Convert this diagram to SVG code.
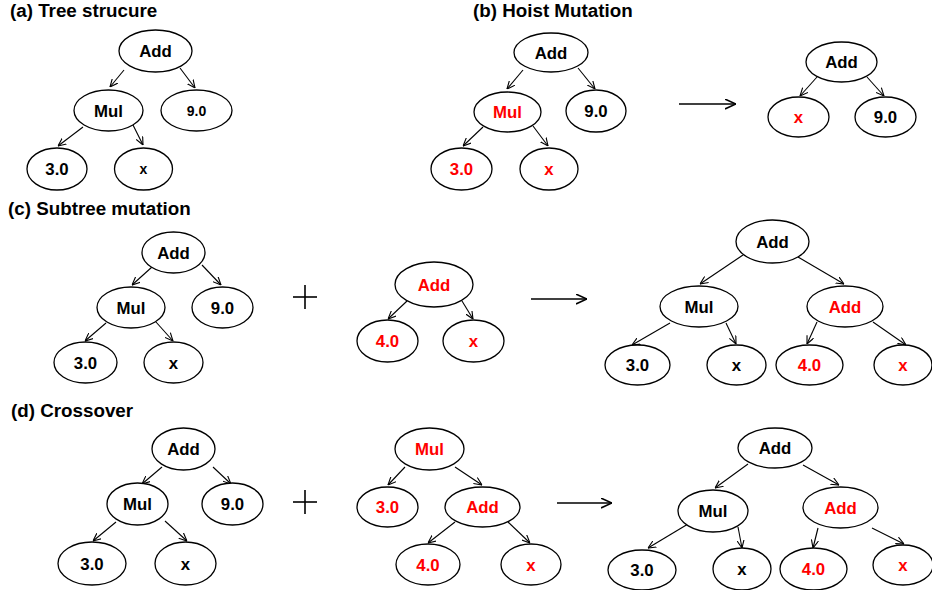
<svg xmlns="http://www.w3.org/2000/svg" width="932" height="590" viewBox="0 0 932 590">
<defs>
<marker id="ah" viewBox="0 0 10 10" refX="10" refY="5" markerWidth="8" markerHeight="8" markerUnits="userSpaceOnUse" orient="auto">
<path d="M0,0.5 L10,5 L0,9.5" fill="none" stroke="#000" stroke-width="1.4"/>
</marker>
<marker id="bh" viewBox="0 0 10 10" refX="10" refY="5" markerWidth="11" markerHeight="11" markerUnits="userSpaceOnUse" orient="auto">
<path d="M0,0.5 L10,5 L0,9.5" fill="none" stroke="#000" stroke-width="1.4"/>
</marker>
</defs>
<style>
.t{font-family:"Liberation Sans",Arial,sans-serif;font-weight:bold;font-size:18.8px;fill:#000}
.n ellipse{fill:#fff;stroke:#000;stroke-width:1.3}
.n text{font-family:"Liberation Sans",Arial,sans-serif;font-weight:bold;font-size:16.8px;text-anchor:middle;fill:#000}
.n text.r{fill:#ff0000}
.n text.s{font-size:14px}
.e line{stroke:#000;stroke-width:1.1;marker-end:url(#ah)}
.big line{stroke:#000;stroke-width:1.6;marker-end:url(#bh)}
.plus{stroke:#000;stroke-width:1.6}
</style>
<rect width="932" height="590" fill="#fff"/>
<g id="titles">
<text class="t" x="10" y="17">(a) Tree strucure</text>
<text class="t" x="473" y="17">(b) Hoist Mutation</text>
<text class="t" x="8" y="215">(c) Subtree mutation</text>
<text class="t" x="11" y="417">(d) Crossover</text>
</g>
<g id="connectors">
<g class="e">
<line x1="124" y1="70" x2="110" y2="87"/>
<line x1="180" y1="68" x2="195" y2="88"/>
<line x1="83" y1="127" x2="58" y2="146"/>
<line x1="133" y1="125" x2="143" y2="145"/>
<line x1="523" y1="70" x2="507" y2="89"/>
<line x1="578" y1="68" x2="595" y2="89"/>
<line x1="483" y1="127" x2="463" y2="146"/>
<line x1="533" y1="126" x2="548" y2="146"/>
<line x1="817" y1="77" x2="800" y2="96"/>
<line x1="867" y1="77" x2="884" y2="96"/>
<line x1="152" y1="267" x2="132" y2="285"/>
<line x1="202" y1="265" x2="221" y2="285"/>
<line x1="106" y1="323" x2="85" y2="341"/>
<line x1="156" y1="322" x2="173" y2="341"/>
<line x1="407" y1="301" x2="388" y2="319"/>
<line x1="462" y1="301" x2="473" y2="319"/>
<line x1="743" y1="255" x2="700" y2="284"/>
<line x1="798" y1="257" x2="844" y2="284"/>
<line x1="670" y1="323" x2="632" y2="345"/>
<line x1="726" y1="323" x2="736" y2="344"/>
<line x1="817" y1="322" x2="807" y2="344"/>
<line x1="873" y1="322" x2="906" y2="345"/>
<line x1="162" y1="467" x2="142" y2="484"/>
<line x1="213" y1="467" x2="231" y2="484"/>
<line x1="116" y1="522" x2="93" y2="541"/>
<line x1="165" y1="521" x2="187" y2="541"/>
<line x1="405" y1="467" x2="388" y2="485"/>
<line x1="455" y1="467" x2="482" y2="485"/>
<line x1="455" y1="522" x2="428" y2="543"/>
<line x1="508" y1="522" x2="530" y2="543"/>
<line x1="748" y1="464" x2="715" y2="488"/>
<line x1="803" y1="465" x2="839" y2="485"/>
<line x1="688" y1="524" x2="648" y2="548"/>
<line x1="738" y1="527" x2="742" y2="548"/>
<line x1="818" y1="528" x2="813" y2="548"/>
<line x1="872" y1="528" x2="904" y2="544"/>
</g>
<g class="big">
<line x1="679" y1="104" x2="736" y2="104"/>
<line x1="531" y1="299" x2="587" y2="299"/>
<line x1="557" y1="503" x2="612" y2="503"/>
</g>
<g class="plus">
<line x1="293" y1="297" x2="317" y2="297"/>
<line x1="305" y1="285" x2="305" y2="309"/>
<line x1="293" y1="502" x2="317" y2="502"/>
<line x1="305" y1="490" x2="305" y2="514"/>
</g>
</g>
<g id="a1" class="n"><ellipse cx="155.5" cy="51" rx="36.5" ry="21"/><text x="155.5" y="57">Add</text></g>
<g id="a2" class="n"><ellipse cx="108.5" cy="110.5" rx="34.5" ry="20.5"/><text x="108.5" y="116.5">Mul</text></g>
<g id="a3" class="n"><ellipse cx="196.5" cy="110.5" rx="35.5" ry="20.5"/><text class="s" x="196.5" y="115.5">9.0</text></g>
<g id="a4" class="n"><ellipse cx="57" cy="169" rx="30" ry="21"/><text x="57" y="175">3.0</text></g>
<g id="a5" class="n"><ellipse cx="143.5" cy="169" rx="29" ry="21"/><text class="s" x="143.5" y="174">x</text></g>
<g id="b1" class="n"><ellipse cx="551" cy="52.5" rx="37" ry="19.5"/><text x="551" y="58.5">Add</text></g>
<g id="b2" class="n"><ellipse cx="507.5" cy="112" rx="33.5" ry="20"/><text class="r" x="507.5" y="118">Mul</text></g>
<g id="b3" class="n"><ellipse cx="596" cy="111" rx="30" ry="21"/><text x="596" y="117">9.0</text></g>
<g id="b4" class="n"><ellipse cx="461.5" cy="169" rx="30.5" ry="21"/><text class="r" x="461.5" y="175">3.0</text></g>
<g id="b5" class="n"><ellipse cx="549" cy="169" rx="29" ry="21"/><text class="r" x="549" y="175">x</text></g>
<g id="b6" class="n"><ellipse cx="841.5" cy="62" rx="35.5" ry="20"/><text x="841.5" y="68">Add</text></g>
<g id="b7" class="n"><ellipse cx="798.5" cy="117" rx="30.5" ry="20"/><text class="r" x="798.5" y="123">x</text></g>
<g id="b8" class="n"><ellipse cx="885.5" cy="117" rx="30.5" ry="20"/><text x="885.5" y="123">9.0</text></g>
<g id="c1" class="n"><ellipse cx="173.5" cy="252.5" rx="31.5" ry="20.5"/><text x="173.5" y="258.5">Add</text></g>
<g id="c2" class="n"><ellipse cx="131" cy="307.5" rx="34" ry="20.5"/><text x="131" y="313.5">Mul</text></g>
<g id="c3" class="n"><ellipse cx="222.5" cy="307.5" rx="30.5" ry="20.5"/><text x="222.5" y="313.5">9.0</text></g>
<g id="c4" class="n"><ellipse cx="85.5" cy="362.5" rx="31.5" ry="20.5"/><text x="85.5" y="368.5">3.0</text></g>
<g id="c5" class="n"><ellipse cx="173.5" cy="362.5" rx="29.5" ry="20.5"/><text x="173.5" y="368.5">x</text></g>
<g id="c6" class="n"><ellipse cx="434" cy="284.5" rx="39" ry="22.5"/><text class="r" x="434" y="290.5">Add</text></g>
<g id="c7" class="n"><ellipse cx="387.5" cy="341" rx="30.5" ry="21"/><text class="r" x="387.5" y="347">4.0</text></g>
<g id="c8" class="n"><ellipse cx="473.5" cy="341" rx="30.5" ry="21"/><text class="r" x="473.5" y="347">x</text></g>
<g id="c9" class="n"><ellipse cx="772.5" cy="241.5" rx="36.5" ry="21.5"/><text x="772.5" y="247.5">Add</text></g>
<g id="c10" class="n"><ellipse cx="699" cy="306.5" rx="39" ry="20.5"/><text x="699" y="312.5">Mul</text></g>
<g id="c11" class="n"><ellipse cx="845" cy="306.5" rx="38" ry="20.5"/><text class="r" x="845" y="312.5">Add</text></g>
<g id="c12" class="n"><ellipse cx="637.5" cy="365" rx="32.5" ry="20"/><text x="637.5" y="371">3.0</text></g>
<g id="c13" class="n"><ellipse cx="736.5" cy="365" rx="29.5" ry="20"/><text x="736.5" y="371">x</text></g>
<g id="c14" class="n"><ellipse cx="809.5" cy="365" rx="33.5" ry="20"/><text class="r" x="809.5" y="371">4.0</text></g>
<g id="c15" class="n"><ellipse cx="903" cy="365" rx="29" ry="20"/><text class="r" x="903" y="371">x</text></g>
<g id="d1" class="n"><ellipse cx="183.5" cy="449" rx="31.5" ry="21"/><text x="183.5" y="455">Add</text></g>
<g id="d2" class="n"><ellipse cx="137.5" cy="504" rx="30.5" ry="21"/><text x="137.5" y="510">Mul</text></g>
<g id="d3" class="n"><ellipse cx="232.5" cy="504" rx="30.5" ry="21"/><text x="232.5" y="510">9.0</text></g>
<g id="d4" class="n"><ellipse cx="92" cy="563.5" rx="34" ry="21.5"/><text x="92" y="569.5">3.0</text></g>
<g id="d5" class="n"><ellipse cx="185.5" cy="563.5" rx="30.5" ry="21.5"/><text x="185.5" y="569.5">x</text></g>
<g id="d6" class="n"><ellipse cx="429.5" cy="449" rx="34.5" ry="21"/><text class="r" x="429.5" y="455">Mul</text></g>
<g id="d7" class="n"><ellipse cx="387.5" cy="507" rx="30.5" ry="20"/><text class="r" x="387.5" y="513">3.0</text></g>
<g id="d8" class="n"><ellipse cx="482.5" cy="507" rx="37.5" ry="20"/><text class="r" x="482.5" y="513">Add</text></g>
<g id="d9" class="n"><ellipse cx="428" cy="564.5" rx="32" ry="20.5"/><text class="r" x="428" y="570.5">4.0</text></g>
<g id="d10" class="n"><ellipse cx="531" cy="564.5" rx="30" ry="20.5"/><text class="r" x="531" y="570.5">x</text></g>
<g id="d11" class="n"><ellipse cx="775" cy="448" rx="37" ry="20"/><text x="775" y="454">Add</text></g>
<g id="d12" class="n"><ellipse cx="713" cy="511" rx="35" ry="21"/><text x="713" y="517">Mul</text></g>
<g id="d13" class="n"><ellipse cx="840.5" cy="507.5" rx="37.5" ry="20.5"/><text class="r" x="840.5" y="513.5">Add</text></g>
<g id="d14" class="n"><ellipse cx="642" cy="570" rx="34" ry="20"/><text x="642" y="576">3.0</text></g>
<g id="d15" class="n"><ellipse cx="742" cy="569" rx="29" ry="21"/><text x="742" y="575">x</text></g>
<g id="d16" class="n"><ellipse cx="813.5" cy="569" rx="33.5" ry="21"/><text class="r" x="813.5" y="575">4.0</text></g>
<g id="d17" class="n"><ellipse cx="903" cy="565" rx="30" ry="20"/><text class="r" x="903" y="571">x</text></g>
</svg>
